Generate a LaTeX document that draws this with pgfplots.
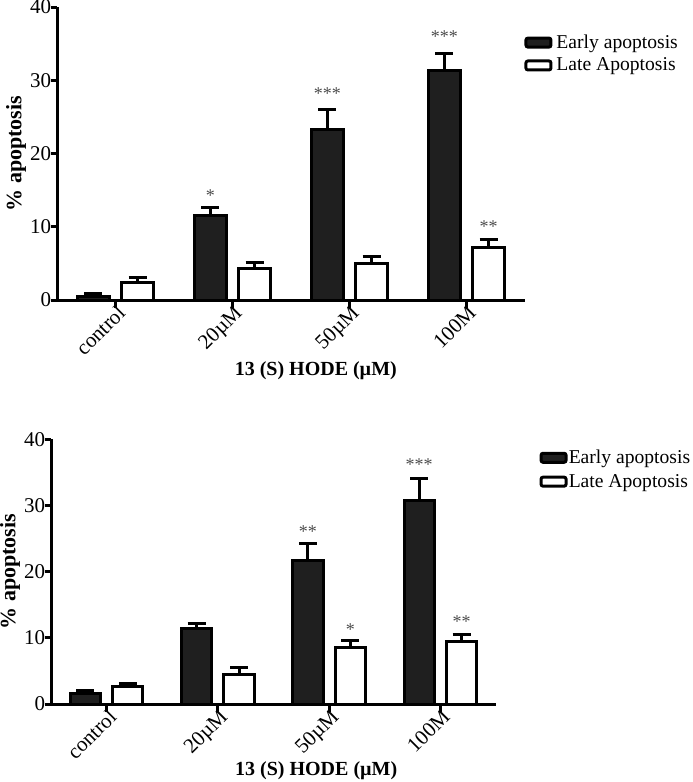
\documentclass[border=0pt]{standalone}
\usepackage{pgfplots}
\pgfplotsset{compat=1.18}
\usepackage{fontspec}
\setmainfont{Liberation Serif}
\pgfplotsset{
  myaxis/.style={
    scale only axis, clip=false,
    xmin=-0.5, xmax=3.5, ymin=0, ymax=40,
    axis x line=bottom, axis y line=left,
    axis line style={line width=1.5pt,-},
    xtick={0,1,2,3}, xticklabels={control,20µM,50µM,100M},
    ytick={0,10,20,30,40},
    /pgf/number format/assume math mode=true,
    tick align=outside,
    tick style={line width=1.5pt, black},
    xtick style={/pgfplots/major tick length=4pt},
    ytick style={/pgfplots/major tick length=3pt},
    x tick label style={rotate=45, anchor=north east, font=\fontsize{10.5}{12}\selectfont, inner sep=0.5pt, xshift=2.5pt, yshift=2pt},
    y tick label style={font=\fontsize{10.5}{12}\selectfont, inner sep=1pt, xshift=2.5pt},
    ylabel={\% apoptosis},
    xlabel={13 (S) HODE (µM)},
    ylabel style={font=\fontsize{11}{13}\selectfont\bfseries, anchor=center},
    xlabel style={font=\fontsize{10}{12}\selectfont\bfseries, anchor=center},
    legend style={draw=none, fill=none, font=\fontsize{9.8}{11}\selectfont, anchor=north west, inner sep=0pt, legend cell align=left},
  },
  early/.style={ybar, bar width=0.27, bar shift=-0.19, fill=black!88, draw=black, line width=1.5pt,
    legend image code/.code={\draw[fill=black!88, line width=1.5pt, rounded corners=1pt] (0pt,-2pt) rectangle (12.5pt,2.5pt);}},
  late/.style={ybar, bar width=0.27, bar shift=0.19, fill=white, draw=black, line width=1.5pt,
    legend image code/.code={\draw[fill=white, line width=1.5pt, rounded corners=1pt] (0pt,-2pt) rectangle (12.5pt,2.5pt);}},
  errs/.style={forget plot, draw=none, mark=none,
    error bars/.cd, y dir=plus, y explicit, error bar style={line width=1.5pt, draw=black, solid},
    error mark options={rotate=90, line width=1.5pt, mark size=4.5pt, draw=black, solid}},
  stars/.style={only marks, mark=none, forget plot, nodes near coords, point meta=explicit symbolic,
    nodes near coords style={anchor=center, yshift=-1.6pt, inner sep=0pt, text=black!70, font=\fontsize{9}{10}\selectfont}},
}
\begin{document}
\begin{tikzpicture}
\path[use as bounding box] (0,0) rectangle (346pt,-391pt);
% ---------- top panel ----------
\begin{axis}[myaxis,
  at={(28.5pt,-150pt)}, anchor=south west,
  width=234pt, height=146.5pt,
  ylabel style={at={(rel axis cs:-0.0876,0.5)}},
  xlabel style={at={(rel axis cs:0.553,-0.242)}},
  legend style={at={(rel axis cs:0.998,0.91)}, nodes={inner xsep=2pt, inner ysep=0.5pt}, row sep=2.3pt},
]
\addplot[early] table[x=x, y=y] {
x y
0 0.5
1 11.5
2 23.3
3 31.3
};
\addlegendentry{Early apoptosis}
\addplot[late] table[x=x, y=y] {
x y
0 2.4
1 4.3
2 5.0
3 7.2
};
\addlegendentry{Late Apoptosis}
\addplot[errs] table[x=x, y=y, y error=e] {
x y e
-0.19 0.5 0.4
0.81 11.5 1.1
1.81 23.3 2.7
2.81 31.3 2.4
0.19 2.4 0.7
1.19 4.3 0.8
2.19 5.0 0.9
3.19 7.2 1.1
};
\addplot[stars] table[x=x, y=y, meta=m] {
x y m
0.81 14.7 *
1.81 28.6 ***
2.81 36.4 ***
3.19 10.4 **
};
\end{axis}
% ---------- bottom panel ----------
\begin{axis}[myaxis,
  at={(25.5pt,-352pt)}, anchor=south west,
  width=222.5pt, height=132.35pt,
  ylabel style={at={(rel axis cs:-0.092,0.5)}},
  xlabel style={at={(rel axis cs:0.596,-0.253)}},
  legend style={at={(rel axis cs:1.097,0.965)}, nodes={inner xsep=0.6pt, inner ysep=0.5pt}, row sep=2.8pt},
]
\addplot[early] table[x=x, y=y] {
x y
0 1.6
1 11.4
2 21.7
3 30.7
};
\addlegendentry{Early apoptosis}
\addplot[late] table[x=x, y=y] {
x y
0 2.7
1 4.5
2 8.5
3 9.5
};
\addlegendentry{Late Apoptosis}
\addplot[errs] table[x=x, y=y, y error=e] {
x y e
-0.19 1.6 0.5
0.81 11.4 0.7
1.81 21.7 2.6
2.81 30.7 3.4
0.19 2.7 0.4
1.19 4.5 1.0
2.19 8.5 1.1
3.19 9.5 1.0
};
\addplot[stars] table[x=x, y=y, meta=m] {
x y m
1.81 26.6 **
2.19 11.7 *
2.81 36.7 ***
3.19 12.9 **
};
\end{axis}
\end{tikzpicture}
\end{document}
